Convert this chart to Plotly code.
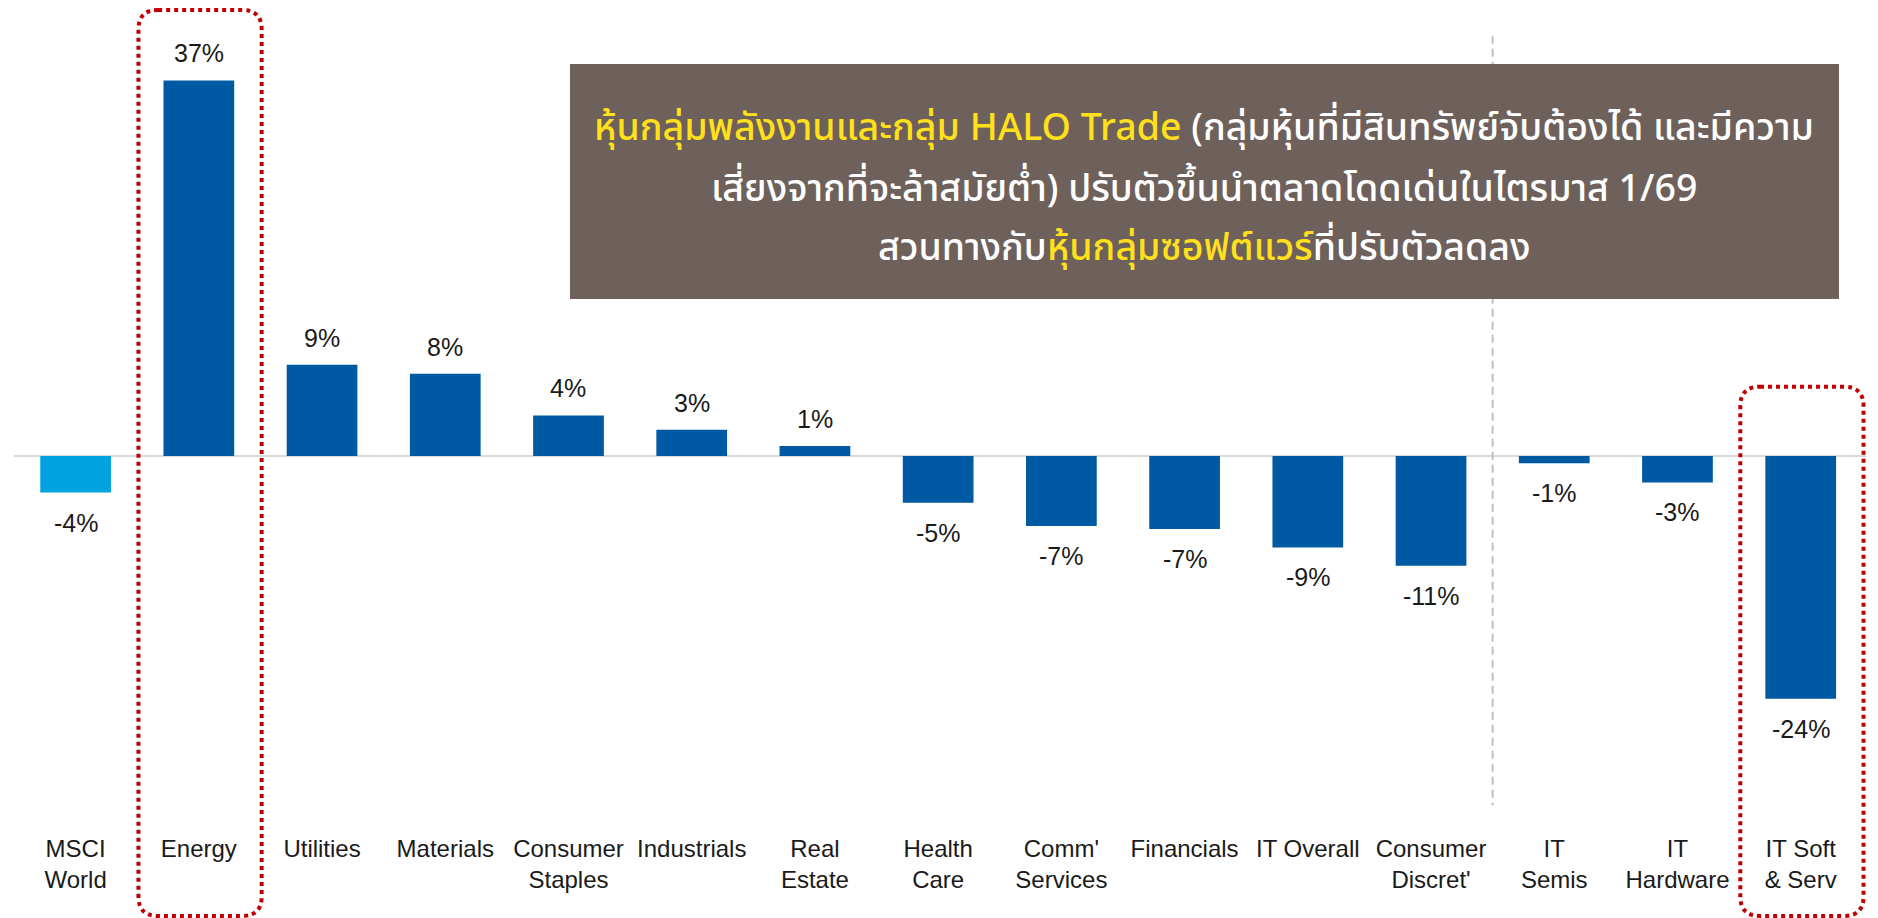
import plotly.graph_objects as go

# Sector returns, Q1 (%)
categories = [
    "MSCI<br>World", "Energy", "Utilities", "Materials", "Consumer<br>Staples",
    "Industrials", "Real<br>Estate", "Health<br>Care", "Comm'<br>Services",
    "Financials", "IT Overall", "Consumer<br>Discret'", "IT<br>Semis",
    "IT<br>Hardware", "IT Soft<br>& Serv",
]
returns = [-3.6, 37.0, 9.0, 8.1, 4.0, 2.6, 1.0, -4.6, -6.9, -7.2, -9.0, -10.8, -0.7, -2.6, -23.9]
highlighted = ["Energy", "IT Soft<br>& Serv"]
benchmark = "MSCI<br>World"
divider_after = "Consumer<br>Discret'"

BLUE = "#005AA3"
LIGHT_BLUE = "#00A3E0"
RED = "#C00000"
BOX = "#6E615C"
YELLOW = "#FFE01B"
LABEL_FONT = "Liberation Sans, Arial, sans-serif"
THAI_FONT = "Noto Sans Thai, Noto Sans, sans-serif"

xs = list(range(len(categories)))
colors = [LIGHT_BLUE if c == benchmark else BLUE for c in categories]

fig = go.Figure()
fig.add_trace(go.Bar(
    x=xs,
    y=returns,
    width=0.574,
    marker=dict(color=colors, line=dict(width=0)),
    hovertemplate="%{y:.1f}%<extra></extra>",
    showlegend=False,
))

# value labels
for x, v in zip(xs, returns):
    fig.add_annotation(
        x=x, y=v, xref="x", yref="y",
        text=f"{round(v):.0f}%",
        showarrow=False,
        yanchor="bottom" if v >= 0 else "top",
        yshift=11 if v >= 0 else -14,
        font=dict(family=LABEL_FONT, size=25, color="#1a1a1a"),
    )

# dashed divider between sectors and IT sub-groups
div_x = categories.index(divider_after) + 0.5
fig.add_shape(
    type="line", xref="x", yref="y",
    x0=div_x, x1=div_x, y0=41.4, y1=-34.4,
    line=dict(color="#BFBFBF", width=2, dash="8px,5px"),
)

# dotted rounded boxes around highlighted sectors
def rounded_box(x0, x1, y0, y1, rx=0.16, ry=0.024):
    return (
        f"M {x0+rx},{y1} L {x1-rx},{y1} Q {x1},{y1} {x1},{y1-ry} "
        f"L {x1},{y0+ry} Q {x1},{y0} {x1-rx},{y0} "
        f"L {x0+rx},{y0} Q {x0},{y0} {x0},{y0+ry} "
        f"L {x0},{y1-ry} Q {x0},{y1} {x0+rx},{y1} Z"
    )

box_tops = {"Energy": 1.0123, "IT Soft<br>& Serv": 0.5484}
for name in highlighted:
    i = categories.index(name)
    fig.add_shape(
        type="path", xref="x", yref="paper",
        path=rounded_box(i - 0.49, i + 0.51, -0.1034, box_tops[name]),
        line=dict(color=RED, width=4, dash="4px,4px"),
        fillcolor="rgba(0,0,0,0)",
    )

# commentary box
fig.add_shape(
    type="rect", xref="paper", yref="paper",
    x0=0.3002, x1=0.9854, y0=0.6564, y1=0.9458,
    fillcolor=BOX, line=dict(width=0), layer="above",
)
lines = [
    f'<span style="color:{YELLOW}">หุ้นกลุ่มพลังงานและกลุ่ม HALO Trade</span> (กลุ่มหุ้นที่มีสินทรัพย์จับต้องได้ และมีความ',
    "เสี่ยงจากที่จะล้าสมัยต่ำ) ปรับตัวขึ้นนำตลาดโดดเด่นในไตรมาส 1/69",
    f'สวนทางกับ<span style="color:{YELLOW}">หุ้นกลุ่มซอฟต์แวร์</span>ที่ปรับตัวลดลง',
]
for text, y in zip(lines, [0.8660, 0.7909, 0.7182]):
    fig.add_annotation(
        x=0.6428, y=y, xref="paper", yref="paper",
        text=text, showarrow=False,
        xanchor="center", yanchor="middle",
        font=dict(family=THAI_FONT, size=37.5, color="white", weight=500),
    )

# page body adds an 8px margin, so the figure is 8px smaller than the window
fig.update_layout(
    width=1870,
    height=910,
    margin=dict(l=6, r=12, t=12, b=86),
    plot_bgcolor="white",
    paper_bgcolor="white",
    xaxis=dict(
        tickmode="array",
        tickvals=xs,
        ticktext=categories,
        range=[-0.5, len(categories) - 0.47],
        showgrid=False,
        zeroline=False,
        showline=False,
        ticks="",
        tickfont=dict(family=LABEL_FONT, size=24, color="#1a1a1a"),
    ),
    yaxis=dict(
        range=[-37.04, 42.96],
        showgrid=False,
        showticklabels=False,
        zeroline=True,
        zerolinecolor="#D9D9D9",
        zerolinewidth=1.5,
        showline=False,
    ),
)

fig.write_html("out.html")
